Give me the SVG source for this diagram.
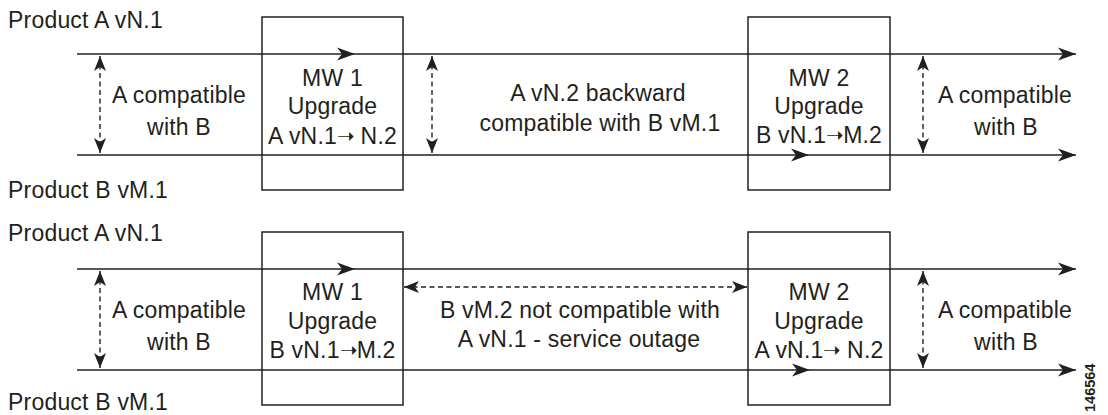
<svg xmlns="http://www.w3.org/2000/svg" width="1108" height="415" viewBox="0 0 1108 415">
<style>
text{font-family:"Liberation Sans",Arial,Helvetica,sans-serif;font-size:23px;fill:#231f20;letter-spacing:0.2px}
.c{text-anchor:middle}
.ln{stroke:#231f20;stroke-width:1.5;fill:none}
.box{stroke:#231f20;stroke-width:1.5;fill:none}
.dash{stroke:#231f20;stroke-width:1.4;fill:none;stroke-dasharray:5 3.5}
.ar{font-size:21px;letter-spacing:-1px}
</style>
<defs>
<marker id="big" markerUnits="userSpaceOnUse" markerWidth="20" markerHeight="16" viewBox="-19 -8 20 16" refX="0" refY="0" orient="auto">
<path d="M0,0 L-18,-6.5 L-13,0 L-18,6.5 Z" fill="#231f20"/>
</marker>
<marker id="sm" markerUnits="userSpaceOnUse" markerWidth="18" markerHeight="14" viewBox="-17 -7 18 14" refX="0" refY="0" orient="auto-start-reverse">
<path d="M0,0 L-15,-6 L-11,0 L-15,6 Z" fill="#231f20"/>
</marker>
<path id="mid" d="M0,0 L-18,-6.5 L-13,0 L-18,6.5 Z" fill="#231f20"/>
</defs>

<g id="connectors">
<!-- top section -->
<line class="ln" x1="77" y1="54" x2="1076" y2="54" marker-end="url(#big)"/>
<line class="ln" x1="77" y1="155" x2="1076" y2="155" marker-end="url(#big)"/>
<use href="#mid" x="355" y="54"/>
<use href="#mid" x="809" y="155"/>
<line class="dash" x1="100" y1="56" x2="100" y2="153" marker-start="url(#sm)" marker-end="url(#sm)"/>
<line class="dash" x1="432" y1="56" x2="432" y2="153" marker-start="url(#sm)" marker-end="url(#sm)"/>
<line class="dash" x1="923" y1="56" x2="923" y2="153" marker-start="url(#sm)" marker-end="url(#sm)"/>
<!-- bottom section -->
<line class="ln" x1="77" y1="269" x2="1076" y2="269" marker-end="url(#big)"/>
<line class="ln" x1="77" y1="370" x2="1076" y2="370" marker-end="url(#big)"/>
<use href="#mid" x="355" y="269"/>
<use href="#mid" x="810" y="370"/>
<line class="dash" x1="100" y1="271" x2="100" y2="368" marker-start="url(#sm)" marker-end="url(#sm)"/>
<line class="dash" x1="404" y1="287" x2="747" y2="287" marker-start="url(#sm)" marker-end="url(#sm)"/>
<line class="dash" x1="923" y1="271" x2="923" y2="368" marker-start="url(#sm)" marker-end="url(#sm)"/>
</g>

<g id="labels-top">
<text x="8" y="28">Product A vN.1</text>
<text x="8" y="198">Product B vM.1</text>
</g>

<g id="compat-top-left">
<text class="c" x="179" y="103">A compatible</text>
<text class="c" x="179" y="135">with B</text>
</g>

<g id="mw1-top">
<rect class="box" x="262" y="17" width="141" height="173"/>
<text class="c" x="332.5" y="86">MW 1</text>
<text class="c" x="332.5" y="114">Upgrade</text>
<text class="c" x="332.5" y="144">A vN.1<tspan class="ar" dy="-1">➝</tspan><tspan dy="1"> N.2</tspan></text>
</g>

<g id="backward-top">
<text class="c" x="598" y="101">A vN.2 backward</text>
<text class="c" x="600" y="131">compatible with B vM.1</text>
</g>

<g id="mw2-top">
<rect class="box" x="748" y="17" width="142" height="173"/>
<text class="c" x="819" y="86">MW 2</text>
<text class="c" x="819" y="114">Upgrade</text>
<text class="c" x="819" y="143">B vN.1<tspan class="ar" dy="-1">➝</tspan><tspan dy="1">M.2</tspan></text>
</g>

<g id="compat-top-right">
<text class="c" x="1005" y="103">A compatible</text>
<text class="c" x="1006" y="135">with B</text>
</g>

<g id="labels-bottom">
<text x="8" y="241">Product A vN.1</text>
<text x="8" y="410">Product B vM.1</text>
</g>

<g id="compat-bottom-left">
<text class="c" x="179" y="318">A compatible</text>
<text class="c" x="179" y="350">with B</text>
</g>

<g id="mw1-bottom">
<rect class="box" x="262" y="232" width="141" height="173"/>
<text class="c" x="332.5" y="300">MW 1</text>
<text class="c" x="332.5" y="329">Upgrade</text>
<text class="c" x="332.5" y="358">B vN.1<tspan class="ar" dy="-1">➝</tspan><tspan dy="1">M.2</tspan></text>
</g>

<g id="outage-bottom">
<text class="c" x="580" y="318">B vM.2 not compatible with</text>
<text class="c" x="579" y="347">A vN.1 - service outage</text>
</g>

<g id="mw2-bottom">
<rect class="box" x="748" y="232" width="142" height="173"/>
<text class="c" x="819" y="300">MW 2</text>
<text class="c" x="819" y="329">Upgrade</text>
<text class="c" x="819" y="358">A vN.1<tspan class="ar" dy="-1">➝</tspan><tspan dy="1"> N.2</tspan></text>
</g>

<g id="compat-bottom-right">
<text class="c" x="1005" y="318">A compatible</text>
<text class="c" x="1006" y="350">with B</text>
</g>

<text x="1095" y="412" transform="rotate(-90 1095 412)" style="font-size:14.5px;font-weight:bold;letter-spacing:0">146564</text>
</svg>
